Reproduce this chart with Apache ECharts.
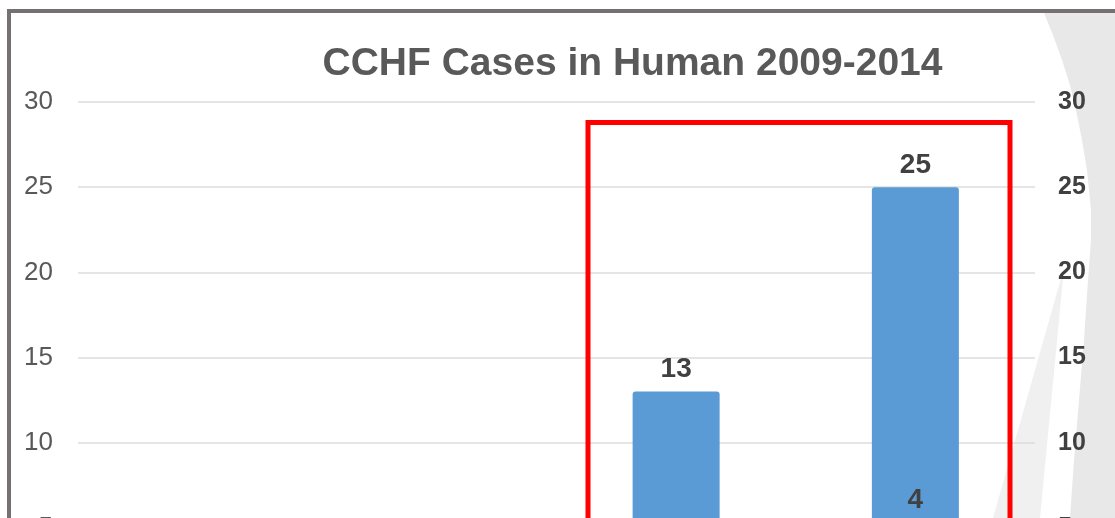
<!DOCTYPE html>
<html>
<head>
<meta charset="utf-8">
<script src="https://cdn.jsdelivr.net/npm/echarts@6/dist/echarts.min.js"></script>
<style>
  html, body { margin: 0; padding: 0; background: #ffffff; overflow: hidden; }
  #chart { width: 1115px; height: 700px; }
</style>
</head>
<body>
<div id="chart"></div>
<script>
// Data (values for the first two categories are below the visible area, unknown)
const titleText = 'CCHF Cases in Human 2009-2014';
const categories = ['2011', '2012', '2013', '2014'];
const cases = [null, null, 13, 25];
const deaths = [null, null, null, 4];
const yTicks = { min: 0, max: 30, interval: 5 };

const FONT = '"Liberation Sans", Arial, sans-serif';
const chart = echarts.init(document.getElementById('chart'), null, { renderer: 'canvas' });

chart.setOption({
  backgroundColor: '#ffffff',
  animation: false,
  grid: { left: 78, top: 102, width: 957, height: 511 },
  xAxis: {
    type: 'category',
    data: categories,
    axisTick: { show: false },
    axisLine: { lineStyle: { color: '#d9d9d9' } },
    axisLabel: { color: '#595959', fontSize: 24, fontFamily: FONT }
  },
  yAxis: [
    {
      type: 'value', min: yTicks.min, max: yTicks.max, interval: yTicks.interval,
      axisLine: { show: false }, axisTick: { show: false },
      splitLine: { lineStyle: { color: '#dcdcdc', width: 1.5 } },
      axisLabel: { color: '#595959', fontSize: 26, fontFamily: FONT, margin: 25 }
    },
    {
      type: 'value', position: 'right', min: yTicks.min, max: yTicks.max, interval: yTicks.interval,
      axisLine: { show: false }, axisTick: { show: false }, splitLine: { show: false },
      axisLabel: { color: '#404040', fontSize: 25, fontWeight: 'bold', fontFamily: FONT, margin: 23 }
    }
  ],
  series: [
    {
      name: 'Cases', type: 'bar', data: cases, barWidth: 87,
      itemStyle: { color: '#5B9BD5', borderRadius: [3, 3, 0, 0] },
      label: { show: true, position: 'top', distance: 8, color: '#404040',
               fontSize: 28, fontWeight: 'bold', fontFamily: FONT }
    },
    {
      name: 'Deaths', type: 'bar', data: deaths, barWidth: 87, barGap: '-100%',
      itemStyle: { color: '#5B9BD5' },
      label: { show: true, position: 'top', distance: 31, color: '#404040',
               fontSize: 28, fontWeight: 'bold', fontFamily: FONT }
    }
  ],
  graphic: [
    // background swoosh
    { type: 'polygon', silent: true, z: -10,
      shape: { points: [[1044, 13], [1053, 35], [1062, 60], [1070, 85], [1076, 110], [1082, 140],
                        [1087, 170], [1091, 210], [1091, 240], [1088, 280], [1084, 340],
                        [1079, 400], [1074, 460], [1070, 518], [1115, 518], [1115, 13]] },
      style: { fill: '#e8e8e8' } },
    { type: 'polygon', silent: true, z: -9,
      shape: { points: [[1064, 268], [1040, 518], [993, 518]] },
      style: { fill: '#f0f0f0' } },
    // slide frame
    { type: 'rect', silent: true, z: 10,
      shape: { x: 9, y: 11, width: 1200, height: 700 },
      style: { fill: 'none', stroke: '#767171', lineWidth: 4 } },
    // highlight box
    { type: 'rect', silent: true, z: 10,
      shape: { x: 588, y: 122.5, width: 422, height: 500 },
      style: { fill: 'none', stroke: '#ff0000', lineWidth: 5 } },
    // title
    { type: 'text', silent: true, z: 10,
      style: { text: titleText, x: 632.5, y: 64, textAlign: 'center', textVerticalAlign: 'middle',
               fontSize: 39, fontWeight: 'bold', fontFamily: FONT, fill: '#595959' } }
  ]
});
</script>
</body>
</html>
